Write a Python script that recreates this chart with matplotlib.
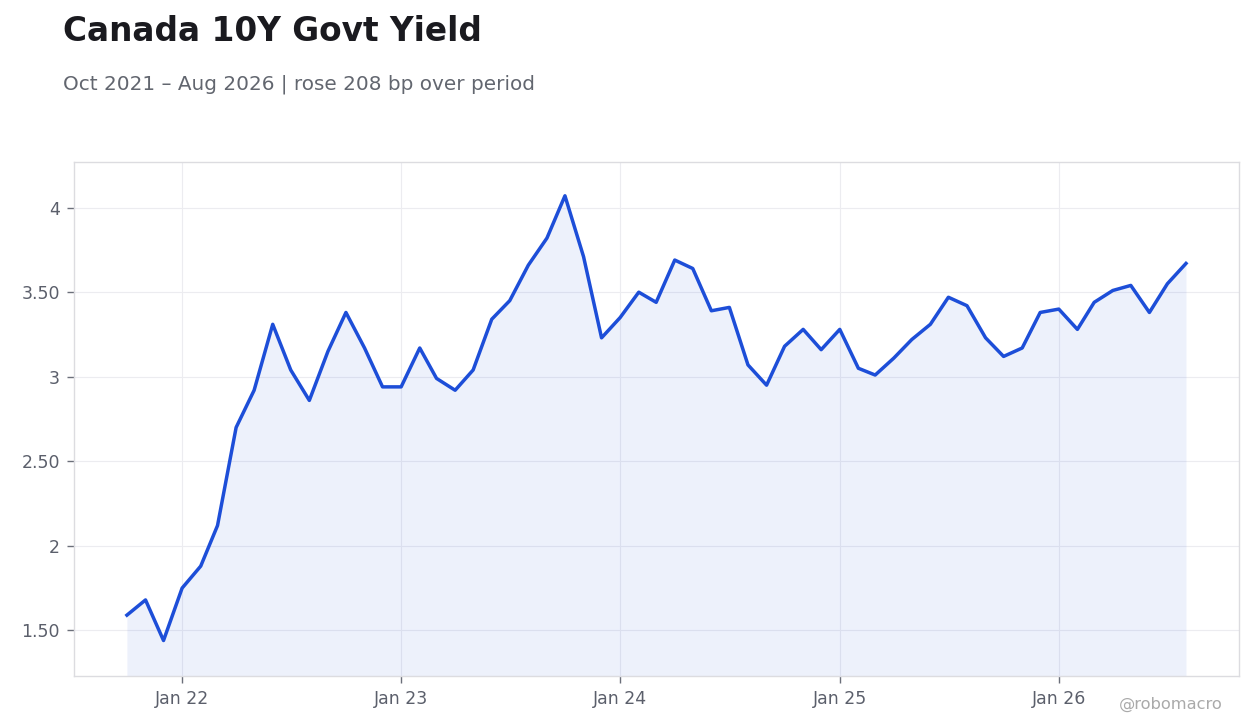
import numpy as np
import pandas as pd
import matplotlib
matplotlib.use("Agg")
import matplotlib.pyplot as plt
import matplotlib.dates as mdates

# Canada 10Y govt yield, monthly, Oct 2021 - Aug 2026
fechas = pd.date_range("2021-10-01", "2026-08-01", freq="MS")
rendimiento = [
    1.59, 1.68, 1.44, 1.75, 1.88, 2.12, 2.70, 2.92, 3.31, 3.04,
    2.86, 3.15, 3.38, 3.17, 2.94, 2.94, 3.17, 2.99, 2.92, 3.04,
    3.34, 3.45, 3.66, 3.82, 4.07, 3.71, 3.23, 3.35, 3.50, 3.44,
    3.69, 3.64, 3.39, 3.41, 3.07, 2.95, 3.18, 3.28, 3.16, 3.28,
    3.05, 3.01, 3.11, 3.22, 3.31, 3.47, 3.42, 3.23, 3.12, 3.17,
    3.38, 3.40, 3.28, 3.44, 3.51, 3.54, 3.38, 3.55, 3.67,
]
ticks_y = [1.5, 2.0, 2.5, 3.0, 3.5, 4.0]
titulo = "Canada 10Y Govt Yield"
subtitulo = "Oct 2021 \u2013 Aug 2026 | rose 208 bp over period"
firma = "@robomacro"

azul = "#1d4ed8"
gris_txt = "#5b5f6b"

fig = plt.figure(figsize=(12.6, 7.28), dpi=100)
ax = fig.add_axes([0.0587, 0.0714, 0.9246, 0.7061])

y_min, y_max = 1.23, 4.27
ax.plot(fechas, rendimiento, color=azul, linewidth=2.5, zorder=3)
ax.fill_between(fechas, rendimiento, y_min, color=azul, alpha=0.08,
                linewidth=0, zorder=2)
ax.set_ylim(y_min, y_max)
ax.margins(x=0.05)

# ejes y rejilla
ax.set_yticks(ticks_y)
ax.set_yticklabels([f"{v:g}" if v == int(v) else f"{v:.2f}" for v in ticks_y])
ax.xaxis.set_major_locator(mdates.YearLocator(month=1, day=1))
ax.xaxis.set_major_formatter(mdates.DateFormatter("%b %y"))
ax.grid(True, color="#ececf0", linewidth=0.8, zorder=0)
ax.set_axisbelow(True)
for s in ax.spines.values():
    s.set_color("#dcdce0")
    s.set_linewidth(1.0)
ax.tick_params(axis="both", colors="#6b6f7a", labelcolor=gris_txt,
               labelsize=12.5, length=5, width=1, pad=5)

# textos
fig.text(0.05, 0.9437, titulo, fontsize=23.6, fontweight="bold",
         color="#1a1a1f", va="baseline", ha="left")
fig.text(0.05, 0.8765, subtitulo, fontsize=14.4, color="#62666f",
         va="baseline", ha="left")
fig.text(0.970, 0.026, firma, fontsize=11.7, color="#aaaaaa",
         va="baseline", ha="right")

fig.savefig("out.png", dpi=100, facecolor="white")
